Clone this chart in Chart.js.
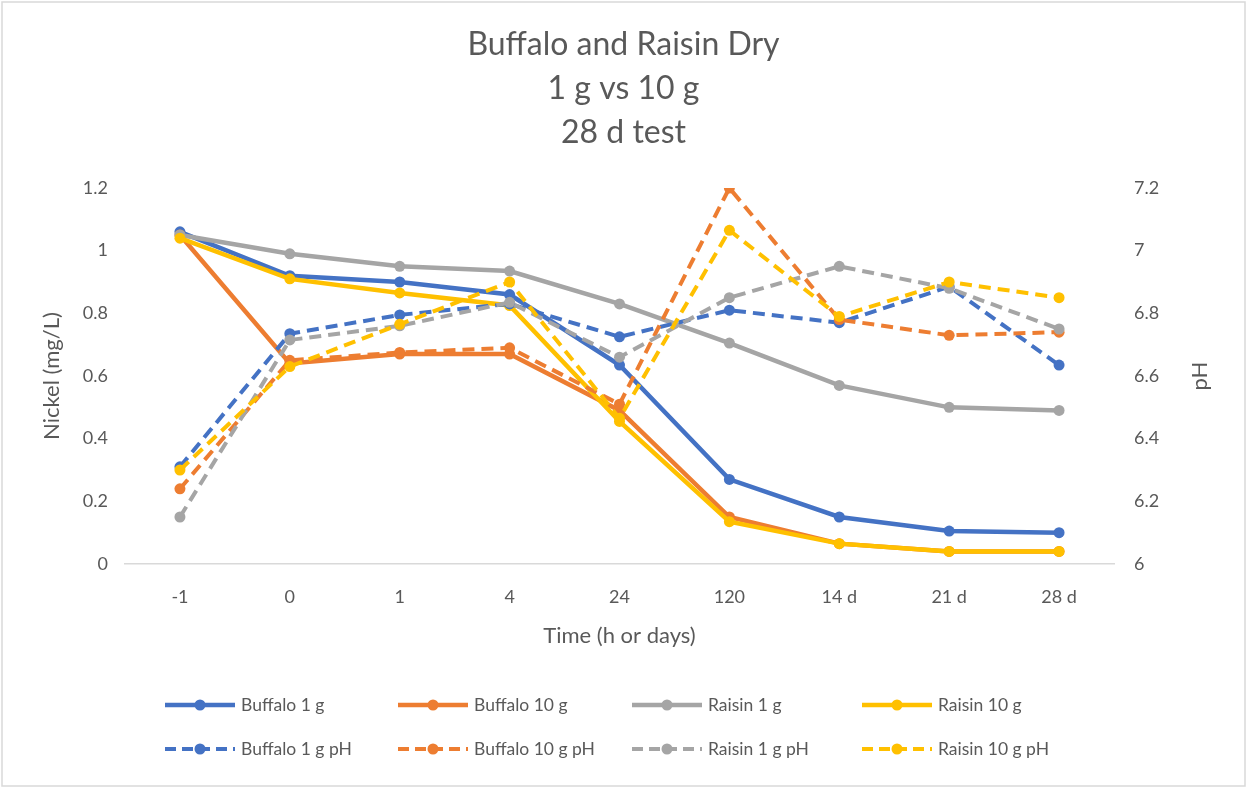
<!DOCTYPE html>
<html>
<head>
<meta charset="utf-8">
<script src="https://cdn.jsdelivr.net/npm/chart.js@4"></script>
<style>
  html, body { margin: 0; padding: 0; background: #fff; }
  #wrap { width: 1247px; height: 788px; position: relative; }
</style>
</head>
<body>
<div id="wrap"><canvas id="c" width="1247" height="788"></canvas></div>
<script>
const categories = ['-1', '0', '1', '4', '24', '120', '14 d', '21 d', '28 d'];

const buffalo1g  = [1.06, 0.92, 0.90, 0.86, 0.635, 0.27, 0.15, 0.105, 0.10];
const buffalo10g = [1.05, 0.64, 0.67, 0.67, 0.49, 0.15, 0.065, 0.04, 0.04];
const raisin1g   = [1.05, 0.99, 0.95, 0.935, 0.83, 0.705, 0.57, 0.50, 0.49];
const raisin10g  = [1.04, 0.91, 0.865, 0.825, 0.455, 0.135, 0.065, 0.04, 0.04];

const buffalo1gPH  = [6.31, 6.735, 6.795, 6.83, 6.725, 6.81, 6.77, 6.885, 6.635];
const buffalo10gPH = [6.24, 6.65, 6.675, 6.69, 6.51, 7.2, 6.78, 6.73, 6.74];
const raisin1gPH   = [6.15, 6.715, 6.76, 6.835, 6.66, 6.85, 6.95, 6.88, 6.75];
const raisin10gPH  = [6.30, 6.63, 6.765, 6.90, 6.465, 7.065, 6.79, 6.90, 6.85];

const nickelTicks = [0, 0.2, 0.4, 0.6, 0.8, 1, 1.2];
const phTicks = [6, 6.2, 6.4, 6.6, 6.8, 7, 7.2];

const seriesNames = ['Buffalo 1 g', 'Buffalo 10 g', 'Raisin 1 g', 'Raisin 10 g',
                     'Buffalo 1 g pH', 'Buffalo 10 g pH', 'Raisin 1 g pH', 'Raisin 10 g pH'];
const seriesData = [buffalo1g, buffalo10g, raisin1g, raisin10g,
                    buffalo1gPH, buffalo10gPH, raisin1gPH, raisin10gPH];
const seriesColors = ['#4472C4', '#ED7D31', '#A5A5A5', '#FFC000',
                      '#4472C4', '#ED7D31', '#A5A5A5', '#FFC000'];

const FONT = 'Lato, "Open Sans", sans-serif';
const TEXT = '#595959';
const fmt = v => String(Math.round(v * 10) / 10);

const datasets = seriesData.map((d, i) => {
  const isPH = i >= 4;
  return {
    label: seriesNames[i],
    data: d,
    yAxisID: isPH ? 'y2' : 'y',
    borderColor: seriesColors[i],
    backgroundColor: seriesColors[i],
    pointBackgroundColor: seriesColors[i],
    pointBorderColor: seriesColors[i],
    borderWidth: isPH ? 4 : 4.5,
    borderDash: isPH ? [12, 7] : [],
    pointRadius: 5.5,
    pointBorderWidth: 0,
    pointHoverRadius: 5.5,
    tension: 0,
    fill: false,
    order: 20 - i
  };
});

const framePlugin = {
  id: 'frame',
  beforeDraw(chart) {
    const ctx = chart.ctx;
    ctx.save();
    ctx.fillStyle = '#ffffff';
    ctx.fillRect(0, 0, chart.width, chart.height);
    ctx.restore();
  },
  afterDraw(chart) {
    const ctx = chart.ctx;
    ctx.save();
    ctx.strokeStyle = '#D9D9D9';
    ctx.lineWidth = 1.5;
    ctx.strokeRect(2, 2, chart.width - 4, chart.height - 4);

    // right axis title (rotated bottom-to-top like the left one)
    const y2 = chart.scales.y2;
    ctx.fillStyle = TEXT;
    ctx.font = '22px ' + FONT;
    ctx.textAlign = 'center';
    ctx.textBaseline = 'middle';
    ctx.translate(1200, (y2.top + y2.bottom) / 2);
    ctx.rotate(-Math.PI / 2);
    ctx.fillText('pH', 0, 0);
    ctx.restore();

    // legend
    const colX = [165, 398, 632, 862];
    const rowY = [705, 749];
    ctx.save();
    chart.data.datasets.forEach((ds, i) => {
      const x = colX[i % 4];
      const y = rowY[Math.floor(i / 4)];
      const isPH = i >= 4;
      ctx.strokeStyle = ds.borderColor;
      ctx.lineWidth = isPH ? 4 : 4.5;
      ctx.setLineDash(isPH ? [11, 6] : []);
      ctx.beginPath();
      ctx.moveTo(x, y);
      ctx.lineTo(x + 70, y);
      ctx.stroke();
      ctx.setLineDash([]);
      ctx.fillStyle = ds.borderColor;
      ctx.beginPath();
      ctx.arc(x + 35, y, 5.5, 0, Math.PI * 2);
      ctx.fill();
      ctx.fillStyle = TEXT;
      ctx.font = '17.5px ' + FONT;
      ctx.textAlign = 'left';
      ctx.textBaseline = 'middle';
      ctx.fillText(ds.label, x + 76, y);
    });
    ctx.restore();
  }
};

new Chart(document.getElementById('c'), {
  type: 'line',
  data: { labels: categories, datasets },
  options: {
    responsive: false,
    animation: false,
    events: [],
    layout: { padding: { left: 0, right: 0, top: 0, bottom: 124 } },
    plugins: {
      legend: { display: false },
      tooltip: { enabled: false },
      title: {
        display: true,
        text: ['Buffalo and Raisin Dry', '1 g vs 10 g', '28 d test'],
        color: TEXT,
        font: { family: FONT, size: 32, weight: 'normal', lineHeight: 44 / 32 },
        padding: { top: 23, bottom: 33 }
      }
    },
    scales: {
      x: {
        offset: true,
        grid: { display: false, drawTicks: false },
        border: { display: true, color: '#D9D9D9', width: 1.5 },
        ticks: { color: TEXT, font: { family: FONT, size: 18 }, padding: 22, maxRotation: 0, autoSkip: false },
        title: {
          display: true, text: 'Time (h or days)', color: TEXT,
          font: { family: FONT, size: 22 }, padding: { top: 0, bottom: 15 }
        },
        afterFit(scale) { scale.height = 100; }
      },
      y: {
        position: 'left',
        min: 0, max: 1.2,
        grid: { display: false, drawTicks: false },
        border: { display: false },
        afterBuildTicks(scale) { scale.ticks = nickelTicks.map(v => ({ value: v })); },
        ticks: { color: TEXT, font: { family: FONT, size: 18 }, padding: 17, callback: fmt },
        title: {
          display: true, text: 'Nickel (mg/L)', color: TEXT,
          font: { family: FONT, size: 22 }, padding: { top: 39, bottom: 0 }
        },
        afterFit(scale) { scale.width = 125; }
      },
      y2: {
        position: 'right',
        min: 6, max: 7.2,
        grid: { display: false, drawTicks: false },
        border: { display: false },
        afterBuildTicks(scale) { scale.ticks = phTicks.map(v => ({ value: v })); },
        ticks: { color: TEXT, font: { family: FONT, size: 18 }, padding: 20, callback: fmt },
        afterFit(scale) { scale.width = 133; }
      }
    }
  },
  plugins: [framePlugin]
});
</script>
</body>
</html>
